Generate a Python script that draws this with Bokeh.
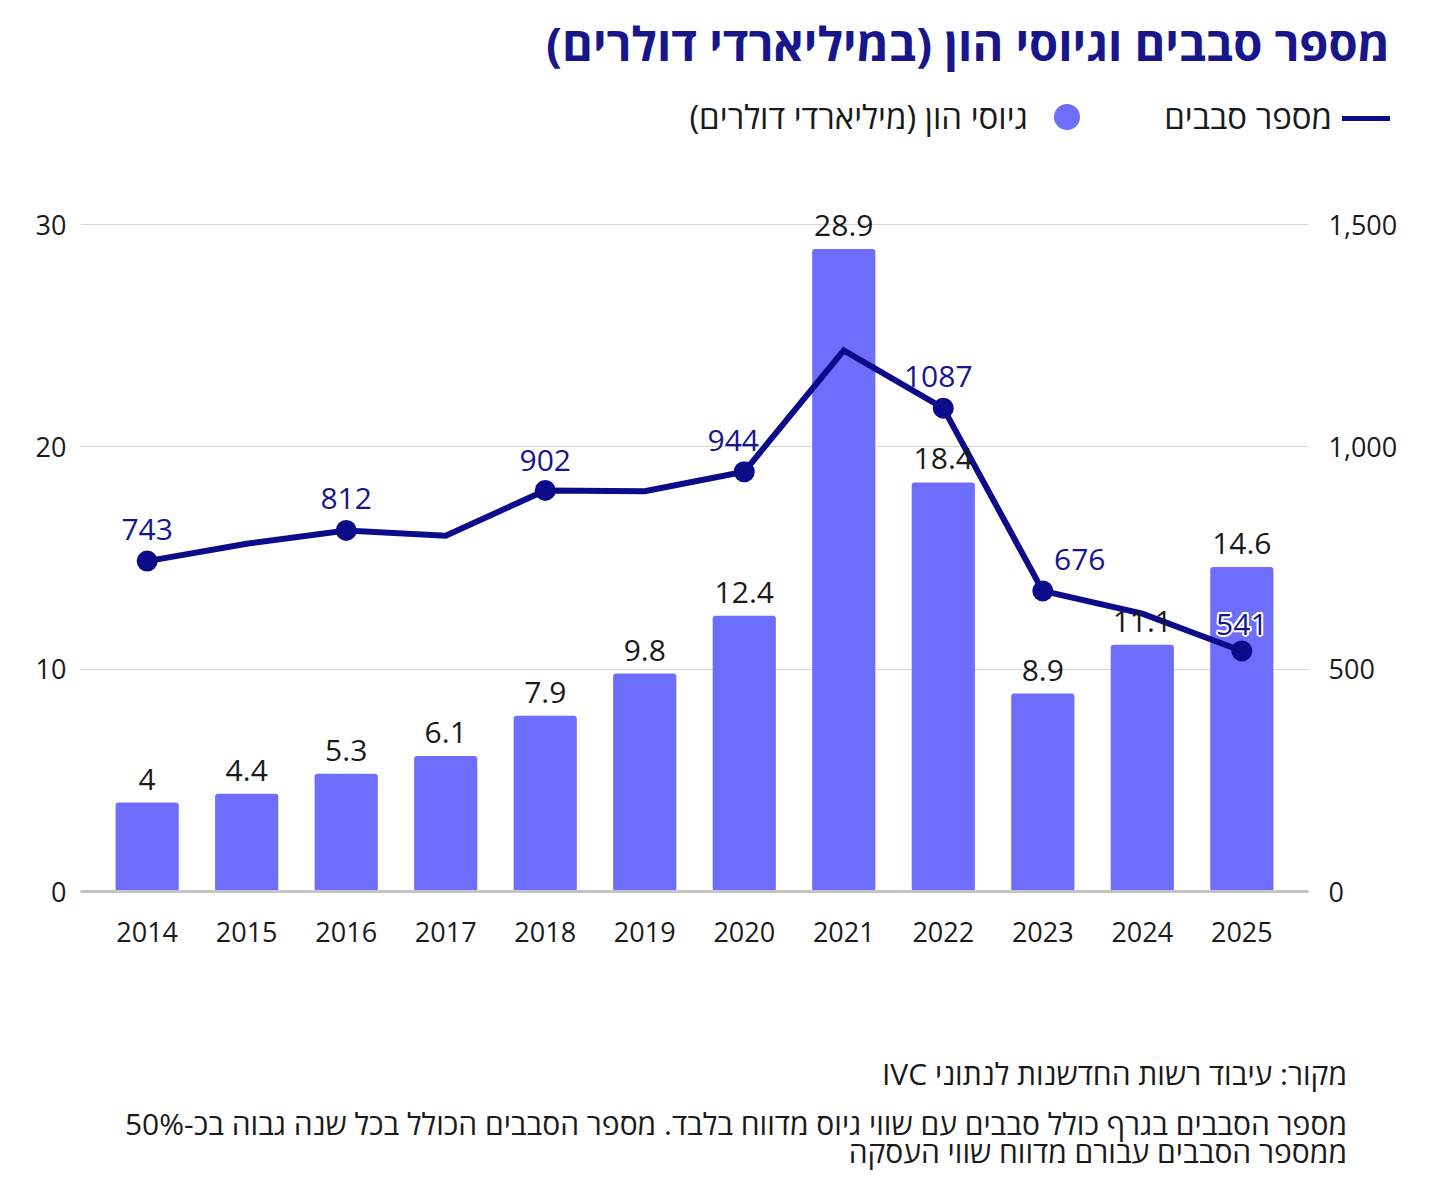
from bokeh.plotting import figure
from bokeh.models import (Range1d, LinearAxis, FixedTicker, NumeralTickFormatter,
                          LabelSet, ColumnDataSource, Div)
from bokeh.layouts import column
from bokeh.core.properties import value
from bokeh.embed import file_html
from bokeh.resources import INLINE

# ---------------- data ----------------
years = [2014, 2015, 2016, 2017, 2018, 2019, 2020, 2021, 2022, 2023, 2024, 2025]
capital = [4, 4.4, 5.3, 6.1, 7.9, 9.8, 12.4, 28.9, 18.4, 8.9, 11.1, 14.6]
rounds = [743, 782, 812, 800, 902, 900, 944, 1217, 1087, 676, 625, 541]
labeled_years = [2014, 2016, 2018, 2020, 2022, 2023, 2025]
left_ticks = [0, 10, 20, 30]
right_ticks = [0, 500, 1000, 1500]

title_text = "מספר סבבים וגיוסי הון (במיליארדי דולרים)"
legend_rounds = "מספר סבבים"
legend_capital = "גיוסי הון (מיליארדי דולרים)"
source_note = "מקור: עיבוד רשות החדשנות לנתוני IVC"
note_line1 = "מספר הסבבים בגרף כולל סבבים עם שווי גיוס מדווח בלבד. מספר הסבבים הכולל בכל שנה גבוה בכ-50%"
note_line2 = "ממספר הסבבים עבורם מדווח שווי העסקה"

# ---------------- style / layout ----------------
BAR = "#6e6efd"
NAVY = "#0c0c8a"
LABEL_NAVY = "#16168e"
TXT = "#1a1a1a"
FONT = "Open Sans"

W = 1434
TOP_H = 160          # header div height
FIG_H = 840          # figure height (canvas y 160..1000)
NOTE_H = 200
FL, FR = 80, 1308    # frame left/right
FT_GRID, FB = 224, 891   # canvas y of value 30 and value 0
FRAME_TOP = 170      # canvas y of frame top
YMAX = 30 * (FB - FRAME_TOP) / (FB - FT_GRID)
NMAX = 1500 * (FB - FRAME_TOP) / (FB - FT_GRID)

p = figure(width=W, height=FIG_H, output_backend="svg", toolbar_location=None,
           x_range=Range1d(2013.33, 2025.67), y_range=Range1d(0, YMAX),
           min_border_left=FL, min_border_right=W - FR,
           min_border_top=FRAME_TOP - TOP_H, min_border_bottom=TOP_H + FIG_H - FB)
p.title.visible = False
p.outline_line_color = None
p.background_fill_color = "white"
p.border_fill_color = "white"
p.extra_y_ranges = {"n": Range1d(0, NMAX)}

# axes
p.yaxis.ticker = FixedTicker(ticks=left_ticks)
p.yaxis.axis_line_color = None
p.yaxis.major_tick_line_color = None
p.yaxis.minor_tick_line_color = None
p.yaxis.major_label_text_font = FONT
p.yaxis.major_label_text_font_size = "27px"
p.yaxis.major_label_text_color = TXT
p.yaxis.major_label_standoff = 8

right = LinearAxis(y_range_name="n", ticker=FixedTicker(ticks=right_ticks),
                   formatter=NumeralTickFormatter(format="0,0"))
right.axis_line_color = None
right.major_tick_line_color = None
right.minor_tick_line_color = None
right.major_label_text_font = FONT
right.major_label_text_font_size = "27px"
right.major_label_text_color = TXT
right.major_label_standoff = 14
p.add_layout(right, "right")

p.xaxis.ticker = FixedTicker(ticks=years)
p.xaxis.axis_line_color = "#c4c4c4"
p.xaxis.axis_line_width = 3
p.xaxis.major_tick_line_color = None
p.xaxis.minor_tick_line_color = None
p.xaxis.major_label_text_font = FONT
p.xaxis.major_label_text_font_size = "27px"
p.xaxis.major_label_text_color = TXT
p.xaxis.major_label_standoff = 24

p.xgrid.grid_line_color = None
p.ygrid.ticker = FixedTicker(ticks=left_ticks)
p.ygrid.grid_line_color = "#d6d6d6"
p.ygrid.grid_line_width = 1

# bars
bsrc = ColumnDataSource(dict(x=years, y=capital, t=[f"{v:g}" for v in capital]))
p.vbar(x="x", top="y", width=0.635, source=bsrc, fill_color=BAR, line_color=None,
       border_radius=3)
p.add_layout(LabelSet(x="x", y="y", text="t", source=bsrc, text_align="center",
                      text_baseline="alphabetic", y_offset=13,
                      text_font=value(FONT), text_font_size="30px", text_color=TXT))

# line
p.line(years, rounds, y_range_name="n", line_width=6, line_color=NAVY, line_join="miter")
lab_vals = [rounds[years.index(y)] for y in labeled_years]
xoff = {2020: -11, 2022: -5, 2023: 37}
yoff = {2018: 19, 2025: 16}
lsrc = ColumnDataSource(dict(x=labeled_years, y=lab_vals, t=[str(v) for v in lab_vals],
                             xo=[xoff.get(y, 0) for y in labeled_years],
                             yo=[yoff.get(y, 21) for y in labeled_years]))
p.scatter(x="x", y="y", source=lsrc, y_range_name="n", size=21,
          fill_color=NAVY, line_color=None)

# white halo behind the last label (it sits on a bar)
last = len(labeled_years) - 1
for dx, dy in [(-2, 0), (2, 0), (0, -2), (0, 2), (-1.5, -1.5), (1.5, 1.5), (-1.5, 1.5), (1.5, -1.5)]:
    hsrc = ColumnDataSource(dict(x=[labeled_years[last]], y=[lab_vals[last]],
                                 t=[str(lab_vals[last])],
                                 xo=[lsrc.data["xo"][last] + dx],
                                 yo=[lsrc.data["yo"][last] + dy]))
    p.add_layout(LabelSet(x="x", y="y", text="t", source=hsrc, y_range_name="n",
                          x_offset="xo", y_offset="yo", text_align="center",
                          text_baseline="alphabetic", text_font=value(FONT),
                          text_font_size="30px", text_color="white"))
p.add_layout(LabelSet(x="x", y="y", text="t", source=lsrc, y_range_name="n",
                      x_offset="xo", y_offset="yo", text_align="center",
                      text_baseline="alphabetic", text_font=value(FONT),
                      text_font_size="30px", text_color=LABEL_NAVY))

# ---------------- header and notes ----------------
header_html = f"""
<div style="position:relative;width:{W}px;height:{TOP_H}px;font-family:'{FONT}',sans-serif;">
  <div dir="rtl" style="position:absolute;right:44px;top:20px;font-size:47px;line-height:47px;
       font-weight:bold;color:#17168a;white-space:nowrap;">{title_text}</div>
  <div style="position:absolute;right:44px;top:116px;width:48px;height:5px;background:{NAVY};"></div>
  <div dir="rtl" style="position:absolute;right:102px;top:100px;font-size:33px;line-height:33px;
       color:{TXT};white-space:nowrap;">{legend_rounds}</div>
  <div style="position:absolute;left:1054px;top:104px;width:26px;height:26px;border-radius:13px;
       background:{BAR};"></div>
  <div dir="rtl" style="position:absolute;right:406px;top:100px;font-size:33px;line-height:33px;
       color:{TXT};white-space:nowrap;">{legend_capital}</div>
</div>
"""
notes_html = f"""
<div style="position:relative;width:{W}px;height:{NOTE_H}px;font-family:'{FONT}',sans-serif;
     color:{TXT};font-size:30px;">
  <div dir="rtl" style="position:absolute;right:87px;top:61px;line-height:26px;white-space:nowrap;">{source_note}</div>
  <div dir="rtl" style="position:absolute;right:87px;top:110px;line-height:28px;white-space:nowrap;">{note_line1}<br>{note_line2}</div>
</div>
"""
header = Div(text=header_html, width=W, height=TOP_H, margin=0)
notes = Div(text=notes_html, width=W, height=NOTE_H, margin=0)

layout = column(header, p, notes, spacing=0, margin=0)
open("out.html", "w").write(file_html(layout, INLINE))
